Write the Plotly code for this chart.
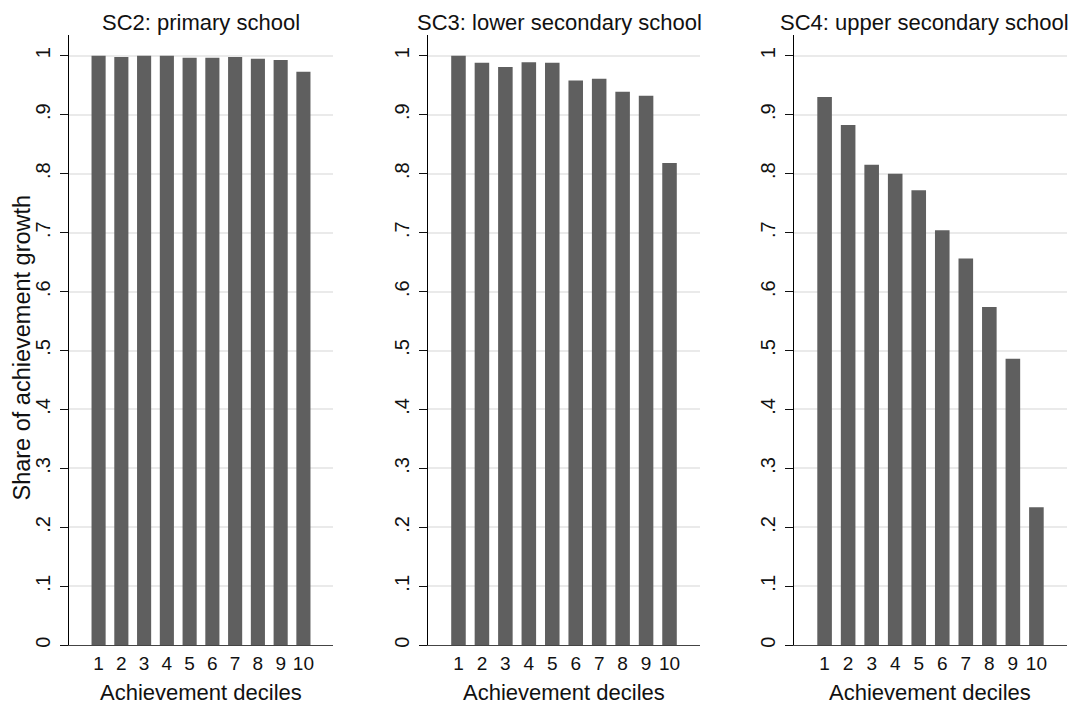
import plotly.graph_objects as go

# ---- data ----
deciles = list(range(1, 11))
decile_labels = [str(d) for d in deciles]
sc2_primary = [1.0, 0.998, 1.0, 1.0, 0.9966, 0.9966, 0.998, 0.995, 0.993, 0.973]
sc3_lower_secondary = [1.0, 0.988, 0.981, 0.989, 0.988, 0.958, 0.961, 0.939, 0.932, 0.818]
sc4_upper_secondary = [0.930, 0.8825, 0.815, 0.800, 0.772, 0.704, 0.656, 0.574, 0.486, 0.234]
panel_titles = ["SC2: primary school", "SC3: lower secondary school", "SC4: upper secondary school"]
ytick_vals = [0, 0.1, 0.2, 0.3, 0.4, 0.5, 0.6, 0.7, 0.8, 0.9, 1.0]
ytick_text = ["0", ".1", ".2", ".3", ".4", ".5", ".6", ".7", ".8", ".9", "1"]
x_title = "Achievement deciles"
y_title = "Share of achievement growth"

# ---- layout geometry (figure pixels; the page body adds an 8px margin) ----
W, H = 1077, 700
FONT = "Liberation Sans, Arial, Helvetica, sans-serif"
BAR = "#5f5f5f"
panels_px = [(61, 325), (420, 692), (786, 1059)]
title_cx_px = [193, 551, 916]
top_px, bottom_px = 27, 640
ydom = [(H - bottom_px) / H, (H - top_px) / H]
ymax = (bottom_px - top_px) / 59.2 * 0.1

series = [sc2_primary, sc3_lower_secondary, sc4_upper_secondary]

fig = go.Figure()
annotations = []
for i, (vals, title, (x0, x1), tcx) in enumerate(zip(series, panel_titles, panels_px, title_cx_px)):
    suffix = "" if i == 0 else str(i + 1)
    fig.add_trace(go.Bar(
        x=deciles, y=vals, width=0.62,
        marker=dict(color=BAR, line=dict(width=0)),
        xaxis="x" + suffix, yaxis="y" + suffix, showlegend=False,
        hoverinfo="x+y",
    ))
    fig.layout["xaxis" + suffix] = dict(
        domain=[x0 / W, x1 / W], range=[-0.3, 11.3],
        tickmode="array", tickvals=deciles, ticktext=decile_labels,
        ticks="", ticklabelstandoff=1,
        showline=True, linecolor="#444444", linewidth=1.3,
        showgrid=False, zeroline=False,
        tickfont=dict(family=FONT, size=19, color="#111111"),
        anchor="y" + suffix, fixedrange=True,
    )
    fig.layout["yaxis" + suffix] = dict(
        domain=ydom, range=[0, ymax],
        tickmode="array", tickvals=ytick_vals, ticktext=ytick_text,
        tickangle=-90, ticks="outside", ticklen=8, tickcolor="#111111", tickwidth=1.2,
        ticklabelstandoff=2,
        showline=True, linecolor="#000000", linewidth=1.3,
        showgrid=True, gridcolor="#eaeaea", gridwidth=1.5,
        zeroline=False,
        tickfont=dict(family=FONT, size=20, color="#111111"),
        anchor="x" + suffix, fixedrange=True,
    )
    cx = (x0 + x1) / 2 / W
    annotations.append(dict(
        text=title, x=tcx / W, y=1 - 14.5 / H, xref="paper", yref="paper",
        xanchor="center", yanchor="middle", showarrow=False, borderpad=0,
        font=dict(family=FONT, size=22, color="#111111"),
    ))
    annotations.append(dict(
        text=x_title, x=cx, y=1 - 687 / H, xref="paper", yref="paper",
        xanchor="center", yanchor="middle", showarrow=False,
        font=dict(family=FONT, size=22, color="#111111"),
    ))

annotations.append(dict(
    text=y_title, x=14 / W, y=1 - 341 / H, xref="paper", yref="paper",
    xanchor="center", yanchor="middle", showarrow=False, textangle=-90,
    font=dict(family=FONT, size=23.5, color="#111111"),
))

fig.update_layout(
    width=W, height=H,
    margin=dict(l=0, r=0, t=0, b=0),
    paper_bgcolor="white", plot_bgcolor="white",
    annotations=annotations,
    bargap=0.38,
)

fig.write_html("out.html")
